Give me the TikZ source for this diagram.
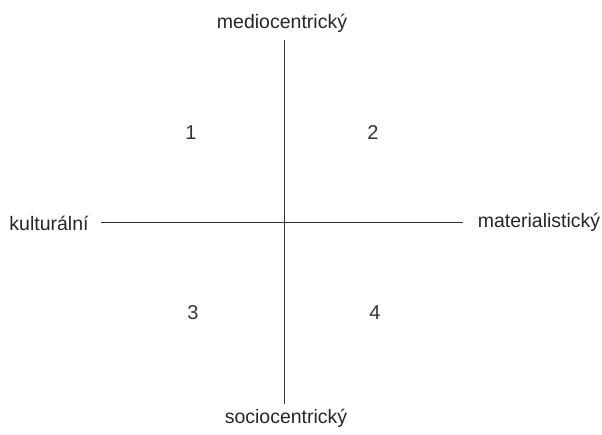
\documentclass[tikz,border=0pt]{standalone}
\usepackage{fontspec}
\setmainfont{Liberation Sans}
\usepackage{tikz}
\usetikzlibrary{positioning}

\tikzset{axislabel/.style={font=\fontsize{19.5}{22}\selectfont, text=black!85},
         quadnum/.style={font=\fontsize{20}{22}\selectfont, text=black!80}}

\begin{document}
\begin{tikzpicture}[x=1pt, y=1pt]
\useasboundingbox (0,0) rectangle (602,434);
\node[axislabel] (medio) at (282,411) {mediocentrický};
\node[axislabel] (socio) at (286,16) {sociocentrický};
\node[axislabel] (kult) at (49,211) {kulturální};
\node[axislabel] (mater) at (539,212) {materialistický};
\coordinate (vtop) at (284,394);
\coordinate (vbot) at (284,30);
\coordinate (hleft) at (101,212);
\coordinate (hright) at (463,212);
\draw[line width=0.9pt, black!80] (vtop) -- (vbot);
\draw[line width=0.9pt, black!80] (hleft) -- (hright);
\node[quadnum] (q1) at (191,301) {1};
\node[quadnum] (q2) at (373,301) {2};
\node[quadnum] (q3) at (193,121) {3};
\node[quadnum] (q4) at (375,121) {4};
\end{tikzpicture}
\end{document}
